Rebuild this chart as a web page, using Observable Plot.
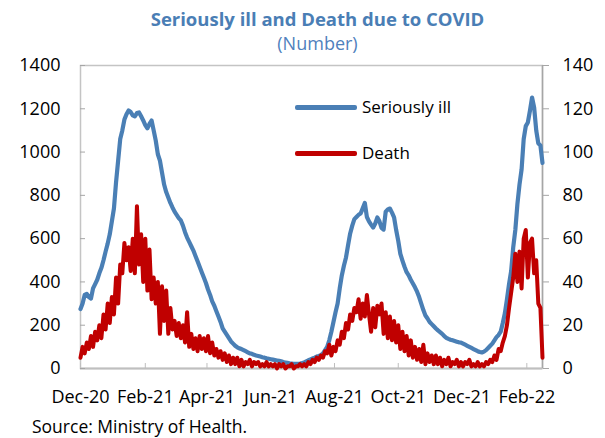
<!DOCTYPE html>
<html><head><meta charset="utf-8">
<script src="https://cdn.jsdelivr.net/npm/d3@7"></script>
<script src="https://cdn.jsdelivr.net/npm/@observablehq/plot@0.6"></script>
<style>
body{margin:0;background:#fff;font-family:"Open Sans",sans-serif;}
#wrap{position:relative;width:605px;height:438px;overflow:hidden;background:#fff}
#title{position:absolute;left:0;width:635px;top:7px;text-align:center;font-weight:bold;font-size:18.5px;color:#4a7eb5;line-height:24px}
#sub{position:absolute;left:0;width:635px;top:31px;text-align:center;font-size:18px;color:#4f81bd;line-height:24px}
#chart{position:absolute;left:0;top:56px}
#source{position:absolute;left:32px;top:414px;font-size:17.5px;line-height:24px;color:#000}
.leg{position:absolute;font-size:17px;line-height:24px;color:#000}
.sw{position:absolute;height:5px;width:62px;border-radius:2px}
</style></head>
<body>
<div id="wrap">
  <div id="title">Seriously ill and Death due to COVID</div>
  <div id="sub">(Number)</div>
  <div id="chart"></div>
  <div class="sw" style="left:295px;top:105px;background:#4a7fb5"></div>
  <div class="leg" style="left:362px;top:95px">Seriously ill</div>
  <div class="sw" style="left:295px;top:151px;background:#c00000"></div>
  <div class="leg" style="left:362px;top:141px">Death</div>
  <div id="source">Source: Ministry of Health.</div>
</div>
<script>
// daily series sampled every 2 days starting 1 Dec 2020
const startDate = "2020-12-01";
const stepDays = 2;
const xDomain = ["2020-12-01", "2022-02-16"];
const xTicks = ["2020-12-01","2021-02-01","2021-04-01","2021-06-01","2021-08-01","2021-10-01","2021-12-01","2022-02-01"];
const leftTicks = [0,200,400,600,800,1000,1200,1400];
const rightTicks = [0,20,40,60,80,100,120,140];

const seriouslyIll = [
  275,300,340,345,330,323,370,390,410,440,
  465,500,540,577,620,680,740,860,960,1060,
  1100,1150,1175,1192,1185,1170,1165,1180,1183,1165,
  1146,1125,1110,1130,1146,1100,1053,990,960,905,
  850,815,790,765,744,725,710,695,684,660,
  630,605,585,565,545,520,495,470,445,420,
  395,365,340,310,290,265,240,215,185,170,
  155,140,125,115,105,98,93,90,85,80,
  75,70,68,63,60,58,55,52,50,47,
  45,43,41,39,37,35,33,30,28,26,
  24,23,22,22,22,23,25,28,33,38,
  42,46,50,55,58,62,70,85,100,130,
  170,215,260,300,370,430,475,513,570,624,
  660,690,700,710,716,740,765,700,680,665,
  651,670,698,680,650,642,725,735,739,720,
  698,640,590,530,499,470,445,430,410,393,
  375,355,330,300,270,245,231,215,205,195,
  185,176,168,160,150,142,137,133,130,127,
  124,121,120,115,110,105,100,95,90,85,
  80,76,74,78,85,95,105,115,130,145,
  155,170,210,255,320,390,450,560,640,760,
  850,920,1060,1120,1137,1192,1252,1206,1100,1040,
  1030,950
];

const deaths = [
  5,10,7,12,9,15,10,17,13,20,
  14,25,18,30,21,33,25,42,30,48,
  44,58,50,56,45,60,44,75,48,62,
  40,60,36,55,32,42,30,40,16,38,
  22,36,16,28,18,22,15,21,14,20,
  12,26,10,16,9,14,8,15,9,14,
  8,15,7,12,6,9,5,8,4,7,
  3,6,2,5,2,5,1,4,1,3,
  2,4,1,3,2,3,1,2,1,3,
  1,2,1,2,0,2,1,2,0,1,
  1,2,0,1,1,2,1,2,1,3,
  2,4,3,5,4,6,5,8,7,11,
  6,10,8,13,11,17,14,21,18,25,
  22,28,26,32,23,30,24,34,25,17,
  28,19,29,25,30,16,26,14,24,13,
  22,12,20,9,17,8,15,6,13,5,
  10,4,9,3,11,2,7,3,6,2,
  6,2,5,1,4,2,5,1,3,2,
  4,1,3,1,3,2,4,1,2,1,
  3,1,2,1,3,2,4,3,6,4,
  9,8,12,15,20,28,35,42,53,40,
  54,37,60,64,42,58,60,44,50,30,
  28,5
];

const start = new Date(startDate);
const rows = seriouslyIll.map((v, i) => ({
  date: d3.utcDay.offset(start, i * stepDays),
  ill: v,
  death: deaths[i]
}));
const ratio = 10; // right axis = left axis / 10
const fmt = d3.utcFormat("%b-%y");

const chart = Plot.plot({
  width: 605,
  height: 358,
  marginLeft: 80,
  marginRight: 63,
  marginTop: 9,
  marginBottom: 46,
  style: {fontFamily: "'Open Sans', sans-serif", fontSize: "18px", color: "#000", background: "transparent", overflow: "visible"},
  x: {type: "utc", domain: xDomain.map(d => new Date(d))},
  y: {domain: [0, 1400]},
  marks: [
    Plot.frame({stroke: "#c4c4c4", strokeWidth: 1.5}),
    Plot.ruleX([new Date(xDomain[1])], {stroke: "#a6a6a6", strokeWidth: 1.5}),
    Plot.ruleY([0], {stroke: "#bfbfbf", strokeWidth: 2}),
    // left axis: inward ticks + labels
    Plot.axisY(leftTicks, {anchor: "left", text: null, tickSize: 5, dx: 5, stroke: "#a6a6a6", label: null}),
    Plot.axisY(leftTicks, {anchor: "left", tickSize: 0, tickPadding: 20, tickFormat: d => String(d), label: null, fill: "#000"}),
    // right axis: outward ticks + labels
    Plot.axisY(rightTicks.map(d => d * ratio), {anchor: "right", text: null, tickSize: 6, stroke: "#a6a6a6", label: null}),
    Plot.axisY(rightTicks.map(d => d * ratio), {anchor: "right", tickSize: 0, tickPadding: 20, tickFormat: d => String(d / ratio), label: null, fill: "#000"}),
    // bottom axis: inward ticks + labels
    Plot.axisX(xTicks.map(d => new Date(d)), {anchor: "bottom", text: null, tickSize: 5, dy: -5, stroke: "#bfbfbf", label: null}),
    Plot.axisX(xTicks.map(d => new Date(d)), {anchor: "bottom", tickSize: 0, tickPadding: 22, tickFormat: fmt, label: null, fill: "#000"}),
    Plot.lineY(rows, {x: "date", y: "ill", stroke: "#4a7fb5", strokeWidth: 4.2, strokeLinejoin: "round"}),
    Plot.lineY(rows, {x: "date", y: d => d.death * ratio, stroke: "#c00000", strokeWidth: 4, strokeLinejoin: "round"})
  ]
});
document.getElementById("chart").appendChild(chart);
</script>
</body></html>
